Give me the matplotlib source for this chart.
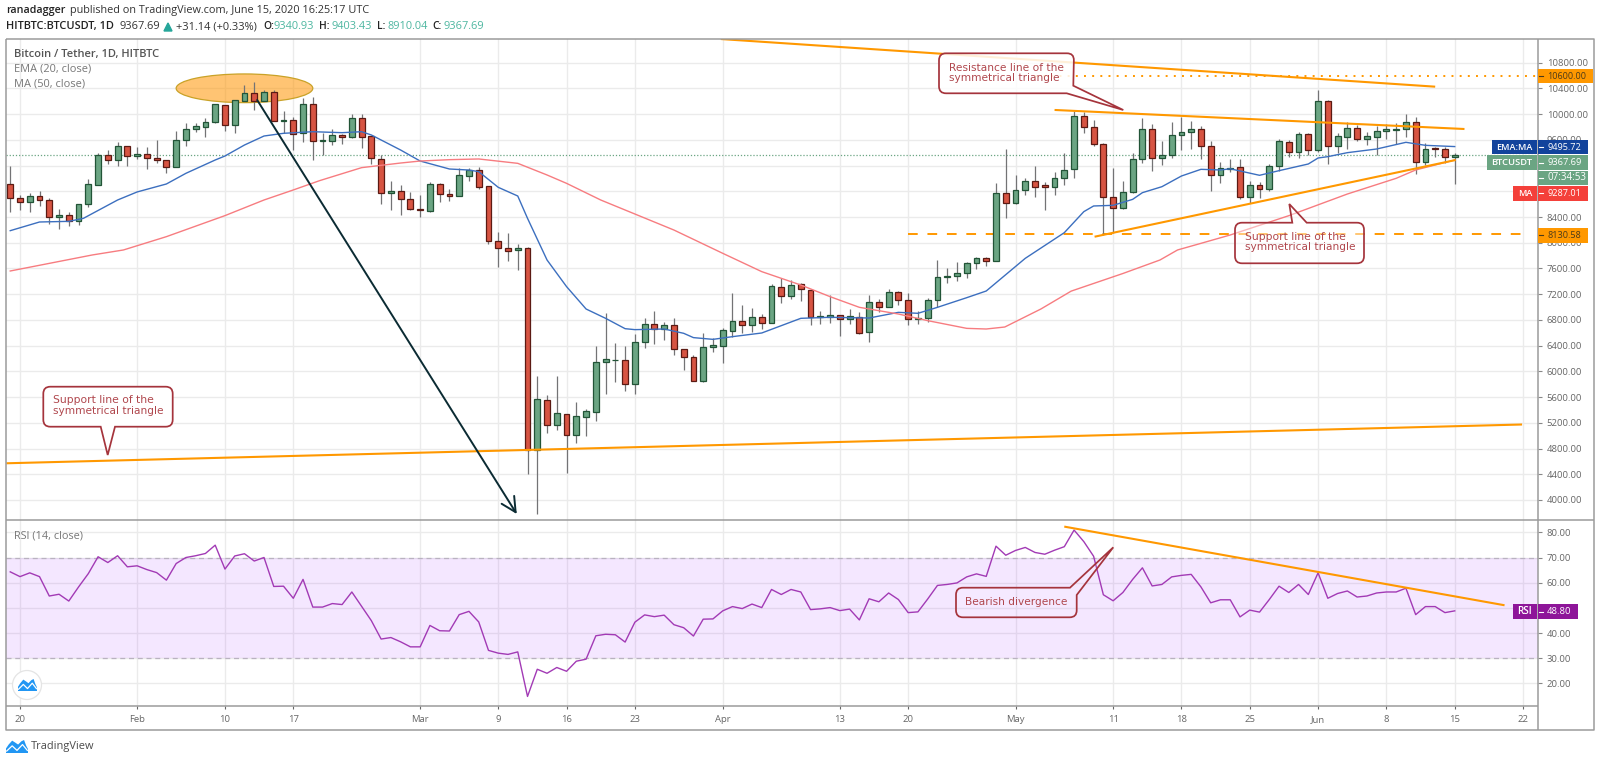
import numpy as np
import matplotlib
matplotlib.use("Agg")
import matplotlib.pyplot as plt
from matplotlib.patches import Ellipse, PathPatch, Rectangle, Polygon, Circle
from matplotlib.path import Path

# ---------- data ----------
# day index 0 = 20 Jan 2020; first candle is 19 Jan, last 15 Jun
opens = [8909,8696,8639,8722,8670,8406,8432,8339,8598,8904,
 9365,9292,9505,9349,9375,9323,9282,9183,9598,9764,
 9805,9873,10142,9837,10210,10324,10205,10339,9894,9904,
 9702,10158,9583,9583,9671,9640,9935,9655,9308,8779,
 8805,8681,8520,8499,8909,8753,8732,9043,9131,8883,
 8028,7919,7892,7919,4778,5555,5161,5343,5011,5286,
 5374,6151,6177,6177,5804,6457,6732,6659,6716,6343,
 6219,5856,6374,6400,6633,6778,6716,6841,6747,7318,
 7177,7354,7260,6841,6851,6882,6820,6841,6607,7079,
 7006,7234,7110,6820,6835,7110,7473,7488,7525,7680,
 7758,7722,8769,8613,8821,8961,8893,8862,9002,9142,
 9976,9795,9531,8707,8546,8789,9297,9774,9313,9365,
 9671,9728,9764,9505,9059,9147,9173,8707,8898,8836,
 9199,9572,9417,9686,9448,10204,9505,9650,9780,9619,
 9650,9743,9759,9764,9878,9261,9474,9463,9340.93]
closes = [8691,8639,8727,8665,8406,8432,8339,8603,8909,9365,
 9292,9500,9349,9375,9323,9282,9183,9598,9764,9810,
 9878,10158,9837,10215,10324,10210,10339,9894,9904,9697,
 10158,9588,9593,9671,9640,9935,9650,9313,8779,8805,
 8681,8525,8510,8909,8753,8732,9049,9131,8872,8028,
 7913,7877,7919,4778,5566,5161,5348,5011,5306,5384,
 6151,6193,6182,5804,6452,6732,6654,6716,6343,6219,
 5856,6374,6405,6643,6778,6716,6846,6747,7323,7177,
 7343,7276,6841,6856,6882,6820,6856,6592,7079,7006,
 7229,7110,6820,6835,7110,7473,7488,7525,7680,7763,
 7722,8769,8613,8821,8961,8872,8862,9012,9126,9976,
 9795,9531,8712,8546,8789,9297,9774,9313,9360,9671,
 9722,9764,9505,9059,9157,9168,8707,8898,8836,9199,
 9578,9417,9686,9448,10204,9510,9655,9780,9619,9655,
 9738,9769,9774,9878,9261,9463,9463,9336,9367.69]
highs = [9194,8743,8769,8810,8691,8520,8484,8603,8987,9401,
 9443,9562,9505,9495,9484,9598,9282,9738,9857,9857,
 9935,10158,10142,10215,10453,10500,10375,10370,10049,9950,
 10246,10272,9702,9764,9691,9997,9997,9665,9360,8960,
 8898,8784,8743,8950,8924,8836,9157,9157,9183,8883,
 8173,8147,7976,7939,5929,5628,5929,5343,5529,5410,
 6395,6903,6447,6395,6582,6825,6944,6768,6835,6343,
 6250,6602,6514,6670,7214,7032,6991,6892,7354,7457,
 7421,7369,7276,6939,7188,6882,6965,6923,7188,7126,
 7276,7250,7214,6939,7146,7732,7602,7696,7696,7784,
 7784,8935,9453,9054,9002,9194,8950,9106,9391,10054,
 10038,9909,9557,9157,8966,9391,9935,9847,9582,9883,
 9961,9893,9821,9582,9261,9297,9303,8960,8950,9220,
 9608,9598,9728,9702,10375,10220,9702,9883,9831,9728,
 9816,9847,9868,9997,9961,9546,9484,9484,9403.43]
lows = [8484,8510,8484,8577,8292,8214,8261,8276,8562,8898,
 9230,9199,9194,9298,9142,9235,9080,9173,9510,9728,
 9650,9857,9738,9702,10210,10064,10205,9894,9702,9443,
 9572,9287,9365,9520,9531,9629,9468,9225,8603,8510,
 8432,8510,8396,8484,8639,8655,8732,8966,8831,7981,
 7618,7722,7577,4405,3783,5047,5089,4425,4892,4995,
 5234,5648,5840,5700,5648,6358,6426,6488,6255,6022,
 5856,5840,6302,6136,6540,6592,6618,6659,6747,7069,
 7120,7094,6721,6737,6747,6550,6737,6581,6452,6929,
 6996,7032,6721,6737,6773,7006,7369,7411,7447,7592,
 7639,7722,8390,8603,8743,8707,8510,8743,8898,9012,
 9712,9510,8121,8147,8520,8779,9235,9121,9204,9313,
 9443,9458,9308,8805,8935,9100,8681,8613,8691,8805,
 9121,9328,9323,9365,9417,9225,9391,9458,9588,9520,
 9365,9608,9536,9640,9069,9209,9328,9235,8910.04]

ema_days = [-1,2,5,6.5,10,12,15,17,20,21,23,25,27,30,33,35,36,39,41,44,46,47,49,51,52,54,56,58,59.5,60,62,63,66,68,69,71,73,76,80,83,87,90,92,94,97,99,103,107,109,110,112,114,115,117,119,121,123,124,127,129,132,133,134,136,139,142,144,147]
ema_vals = [8188,8323,8333,8380,8665,8790,8914,9080,9287,9349,9520,9660,9702,9727,9712,9727,9676,9442,9271,9147,9131,9106,8862,8727,8380,7732,7318,6970,6861,6825,6664,6649,6659,6592,6525,6498,6540,6597,6825,6841,6830,6918,6903,6996,7146,7250,7758,8157,8484,8572,8582,8675,8779,8872,9038,9142,9132,9150,9049,9121,9225,9318,9339,9401,9458,9562,9515,9495.72]
ma_days = [-1,7.4,10.6,15,21,25,28,30.7,35,39,41,44,47,51,54,56,59.5,67,72,76,80,83,86,90,93,97,99,100.9,104.6,107.7,113,116.8,118.6,121,124,130,136,141,143,147]
ma_vals = [7561,7810,7888,8095,8422,8665,8821,8966,9168,9240,9271,9292,9303,9235,9054,8924,8665,8198,7836,7551,7343,7162,6996,6892,6789,6669,6659,6690,6970,7248,7522,7732,7888,7991,8121,8421,8758,9002,9132,9287.01]
rsi_vals = [64.3,62.4,63.9,62.4,54.7,55.4,52.7,58.3,63.6,70.3,68.0,70.7,66.3,66.7,65.2,64.0,61.0,67.6,70.0,70.7,71.6,74.9,65.4,70.6,71.5,68.6,70.0,58.5,58.6,53.8,61.3,50.3,50.3,51.7,51.3,56.3,50.6,44.9,37.6,38.2,36.5,34.5,34.5,43.0,40.9,40.8,47.3,48.6,44.4,33.1,32.0,31.5,32.5,14.8,25.6,24.0,26.3,24.8,28.8,29.6,38.9,39.5,39.3,36.4,44.3,47.2,46.5,47.1,43.3,42.1,38.8,45.5,45.6,48.8,50.5,49.7,51.5,50.1,57.3,55.3,57.3,56.3,49.3,49.6,50.1,48.9,49.5,45.2,53.6,52.4,55.9,53.3,48.1,48.4,53.5,58.9,59.3,59.9,62.3,63.5,62.5,74.5,70.9,72.8,74.0,72.0,71.3,72.9,74.3,80.9,76.3,70.5,55.2,52.8,56.1,61.3,65.9,58.7,59.3,62.3,62.9,63.3,58.3,52.0,53.2,53.2,46.4,49.1,48.3,53.3,58.6,56.1,59.3,55.3,63.9,53.8,55.7,56.7,54.3,54.7,55.9,56.3,56.3,57.8,47.3,50.5,50.5,48.1,48.8]

price_ticks = list(range(4000, 11000, 400))
hidden_price_labels = [8800, 9200]          # fully behind the price tags
rsi_ticks = [20, 30, 40, 50, 60, 70, 80]
hidden_rsi_labels = [50]                    # fully behind the RSI tag
time_tick_days = [0, 12, 21, 28, 41, 49, 56, 63, 72, 84, 91, 102, 112, 119, 126, 133, 140, 147, 154]
time_tick_labels = ["20", "Feb", "10", "17", "Mar", "9", "16", "23", "Apr", "13", "20", "May", "11", "18", "25", "Jun", "8", "15", "22"]

last_price = 9367.69
level_top = 10600
level_low = 8130.58
trend_top = ([71.8, 145.0], [11168, 10427])
trend_res = ([106.0, 148.0], [10065, 9769])
trend_sup = ([110.1, 147.1], [8094, 9287])
trend_long = ([-1.4, 153.9], [4571, 5174])
trend_rsi = ([107.1, 152.0], [82.2, 51.1])

# ---------- layout ----------
W, H = 1600, 763
LEFT, RIGHT, TOP, SEP, BOT = 6, 1538, 39, 520, 706
GREEN, RED = "#6ba583", "#d75442"
GREEN_E, RED_E = "#225437", "#5b1a13"
ORANGE = "#ff9800"
GRID = "#ebebeb"
LABEL = "#666666"
FONT = "Open Sans"
plt.rcParams["font.family"] = [FONT, "DejaVu Sans"]

fig = plt.figure(figsize=(W / 100, H / 100), dpi=100, facecolor="white")
def axes_px(x0, y0, x1, y1):
    return fig.add_axes([x0 / W, 1 - y1 / H, (x1 - x0) / W, (y1 - y0) / H])

ax = axes_px(LEFT, TOP, RIGHT, SEP)
rx = axes_px(LEFT, SEP, RIGHT, BOT)
xlim = ((LEFT - 20) / 9.76, (RIGHT - 20) / 9.76)
for a in (ax, rx):
    a.set_xlim(*xlim)
    a.set_xticks(time_tick_days)
    a.grid(True, color=GRID, lw=1.0)
    a.set_axisbelow(True)
    for s in a.spines.values():
        s.set_visible(False)
ax.set_ylim(3689, 11168.5)
rx.set_ylim(11, 84.9)

# ---------- candles ----------
days = np.arange(-1, len(opens) - 1)
o, c, h, l = map(np.array, (opens, closes, highs, lows))
up = c >= o
ax.vlines(days, l, h, color="#737375", lw=0.9, zorder=3)
ax.bar(days, np.abs(c - o), bottom=np.minimum(o, c), width=0.6,
       color=np.where(up, GREEN, RED), edgecolor=np.where(up, GREEN_E, RED_E),
       linewidth=0.9, zorder=4)

# ---------- indicators ----------
ax.plot(ema_days, ema_vals, color="#3c6fbf", lw=1.0, zorder=5)
ax.plot(ma_days, ma_vals, color="#f77c80", lw=1.0, zorder=5)
ax.axhline(last_price, color=GREEN, lw=0.9, ls=(0, (1, 1.5)), zorder=2)

# ---------- drawings on the price pane ----------
ax.add_patch(Ellipse((23, 10402), 14.0, 446, facecolor=(1, .58, 0, .55),
                     edgecolor="#c9a227", lw=0.9, zorder=2))
for xs, ys in (trend_top, trend_res, trend_sup, trend_long):
    ax.plot(xs, ys, color=ORANGE, lw=1.5, zorder=6, solid_capstyle="butt")
ax.plot([104.0, xlim[1]], [level_top] * 2, color=ORANGE, lw=1.4, ls=(0, (1, 3.2)), zorder=2)
ax.plot([91.0, 154.4], [level_low] * 2, color=ORANGE, lw=1.4, ls=(0, (5, 5)), zorder=2)
ax.annotate("", xy=(50.9, 3782), xytext=(24.3, 10220),
            arrowprops=dict(arrowstyle="->,head_length=0.75,head_width=0.38", color="#0b2b33",
                            lw=1.4, shrinkA=0, shrinkB=0, mutation_scale=14), zorder=7)

# ---------- RSI pane ----------
rx.axhspan(30, 70, color="#9915ff", alpha=0.1, lw=0, zorder=1)
for lv in (30, 70):
    rx.axhline(lv, color="#b9b2c0", lw=0.9, ls=(0, (4, 3)), zorder=2)
rx.plot(days, rsi_vals, color="#a23ab5", lw=1.0, zorder=4)
rx.plot(*trend_rsi, color=ORANGE, lw=1.5, zorder=5)

# ---------- axes text ----------
ax.yaxis.tick_right()
ax.set_yticks(price_ticks)
ax.set_yticklabels(["" if v in hidden_price_labels else "%.2f" % v for v in price_ticks])
rx.yaxis.tick_right()
rx.set_yticks(rsi_ticks)
rx.set_yticklabels(["" if v in hidden_rsi_labels else "%.2f" % v for v in rsi_ticks])
for a in (ax, rx):
    a.tick_params(axis="y", length=3, width=0.8, color="#888888", labelsize=6.8,
                  labelcolor=LABEL, pad=3.2, right=True)
ax.tick_params(axis="x", length=0, labelbottom=False)
rx.set_xticklabels(time_tick_labels, va="center")
rx.tick_params(axis="x", length=2, width=0.8, color="#666666", labelsize=6.8, labelcolor=LABEL, pad=7.5)

# ---------- overlay in pixel coordinates ----------
ov = fig.add_axes([0, 0, 1, 1], zorder=20)
ov.set_xlim(0, W)
ov.set_ylim(H, 0)
ov.axis("off")
ov.patch.set_alpha(0)
renderer = fig.canvas.get_renderer()

def put(x, y, s, width=None, size=7, color="#333333", weight="normal", ha="left", family=None, **kw):
    t = ov.text(x, y, s, fontsize=size, color=color, fontweight=weight, ha=ha, va="center",
                family=family or FONT, **kw)
    if width:
        w = t.get_window_extent(renderer).width
        t.set_fontsize(size * width / w)
    return t

# frame
for xs, ys in (((5.7, 1594, 1594, 5.7, 5.7), (39, 39, 730, 730, 39)),
               ((5.7, 1594), (520, 520)), ((5.7, 1538), (706, 706)), ((1538, 1538), (39, 730))):
    ov.plot(xs, ys, color="#9b9b9b", lw=1.1, solid_capstyle="butt")

# header
put(6, 11, "ranadagger", 60, color="#222222", weight="semibold")
put(69.5, 11, "published on TradingView.com, June 15, 2020 16:25:17 UTC", 299.5, color="#333333")
put(6, 26.7, "HITBTC:BTCUSDT, 1D", 108, color="#222222", weight="semibold")
put(120, 26.7, "9367.69", 41, color="#333333")
ov.add_patch(Polygon([(164, 31), (172, 31), (168, 23)], color="#26a69a"))
put(176, 26.7, "+31.14 (+0.33%)", 82, color="#333333")
TEAL = "#4db6a0"
for lab, lx, val, vx in (("O:", 263, "9340.93", 273), ("H:", 319.5, "9403.43", 332),
                         ("L:", 377, "8910.04", 387), ("C:", 432, "9367.69", 443)):
    put(lx, 26.7, lab, color="#222222", weight="semibold", size=7.4)
    put(vx, 26.7, val, 41, color=TEAL)

# pane titles
put(14, 54, "Bitcoin / Tether, 1D, HITBTC", 146, color="#555555", weight="semibold")
put(14, 69.3, "EMA (20, close)", 77, color="#777777")
put(14, 84.3, "MA (50, close)", 71, color="#777777")
put(14, 535.7, "RSI (14, close)", 69, color="#777777")

# price tags
VALUE_W = {5: 24.5, 7: 34.3, 8: 39.0}
def tag(y0, y1, value, color, txt="white", left=None, left_x=None, right=1588.3):
    ov.add_patch(Rectangle((1538, y0), right - 1538, y1 - y0, color=color, lw=0, zorder=3))
    ov.plot([1538.5, 1543], [(y0 + y1) / 2] * 2, color=txt, lw=0.8, zorder=4)
    put(1547, (y0 + y1) / 2, value, VALUE_W[len(value)], color=txt, zorder=5)
    if left:
        ov.add_patch(Rectangle((left_x, y0), 1536.7 - left_x, y1 - y0, color=color, lw=0, zorder=3))
        put((left_x + 1536.7) / 2, (y0 + y1) / 2, left, 1536.7 - left_x - 9, color=txt,
            ha="center", weight="semibold", zorder=5)

tag(69.3, 83.3, "10600.00", ORANGE, txt="#4a3a1a", right=1593)
tag(140, 154, "9495.72", "#12439c", left="EMA:MA", left_x=1491.7)
tag(155, 170, "9367.69", GREEN, left="BTCUSDT", left_x=1486.7)
tag(170.7, 185.3, "07:34:53", GREEN)
tag(186, 200.7, "9287.01", "#f4403a", left="MA", left_x=1513.3)
tag(228, 242.7, "8130.58", ORANGE, txt="#4a3a1a")
tag(604, 619, "48.80", "#8e1599", left="RSI", left_x=1513, right=1578)

# callouts
def rounded(points):
    verts, codes = [], []
    n = len(points)
    for i, (x, y, r) in enumerate(points):
        if r == 0:
            verts.append((x, y))
            codes.append(Path.LINETO)
            continue
        px, py, _ = points[i - 1]
        nx, ny, _ = points[(i + 1) % n]
        d0 = np.hypot(px - x, py - y)
        d1 = np.hypot(nx - x, ny - y)
        verts.append((x + (px - x) * r / d0, y + (py - y) * r / d0))
        codes.append(Path.LINETO)
        verts.append((x, y))
        codes.append(Path.CURVE3)
        verts.append((x + (nx - x) * r / d1, y + (ny - y) * r / d1))
        codes.append(Path.CURVE3)
    codes[0] = Path.MOVETO
    verts.append(verts[0])
    codes.append(Path.CLOSEPOLY)
    return Path(verts, codes)

C_EDGE, C_TEXT = "#a5343c", "#b0474d"
def callout(points, alpha, lines):
    ov.add_patch(PathPatch(rounded(points), facecolor=(1, 1, 1, alpha), edgecolor=C_EDGE, lw=1.25, zorder=2))
    for x, y, s, w in lines:
        put(x, y, s, w, color=C_TEXT, family="DejaVu Sans", zorder=3)

R = 7
callout([(939, 53.3, R), (1074, 53.3, R), (1073.3, 85.7, 0), (1123.3, 110, 0), (1066.7, 93.3, 0), (939, 93.3, R)],
        0.85, [(949.3, 67.7, "Resistance line of the", 114.7), (949.3, 78.3, "symmetrical triangle", 110)])
callout([(1235, 222.7, R), (1292.3, 222.7, 0), (1289.3, 204, 0), (1306.7, 222.7, 0), (1364, 222.7, R),
         (1364, 263.3, R), (1235, 263.3, R)],
        0.45, [(1245, 236.7, "Support line of the", 100.7), (1245, 247.3, "symmetrical triangle", 110)])
callout([(43.3, 386.7, R), (172.7, 386.7, R), (172.7, 426.7, R), (115, 426.7, 0), (107.7, 455, 0),
         (100.7, 426.7, 0), (43.3, 426.7, R)],
        1.0, [(52.7, 400.3, "Support line of the", 100.7), (52.7, 411, "symmetrical triangle", 110)])
callout([(956, 587.7, R), (1070, 587.7, 0), (1113.3, 547.3, 0), (1076.7, 595, 0), (1076.7, 617.3, R), (956, 617.3, R)],
        0.1, [(965.3, 601.7, "Bearish divergence", 102)])

# logos
logo_shape = [(0, .65), (.12, .35), (.28, .05), (.42, .2), (.55, .35), (.7, .1), (.82, 0), (.92, .45), (1, .7), (1, 1), (0, 1)]
logo_line = [(.03, .85), (.28, .45), (.5, .8), (.75, .35), (.97, .8)]
def logo(x, y, w, hh, z=5):
    ov.add_patch(Polygon([(x + a * w, y + b * hh) for a, b in logo_shape], color="#2196f3", lw=0, zorder=z))
    ov.plot([x + a * w for a, b in logo_line], [y + b * hh for a, b in logo_line], color="white", lw=0.9, zorder=z + 1)

ov.add_patch(Circle((27, 685), 14.5, facecolor="white", edgecolor="#e4e4e4", lw=0.9, zorder=4))
logo(18, 679, 19, 12)
logo(6, 740, 22, 13)
put(30.6, 746.7, "TradingView", 63.5, color="#4a4a4a")

fig.savefig("out.png", dpi=100, facecolor="white")
